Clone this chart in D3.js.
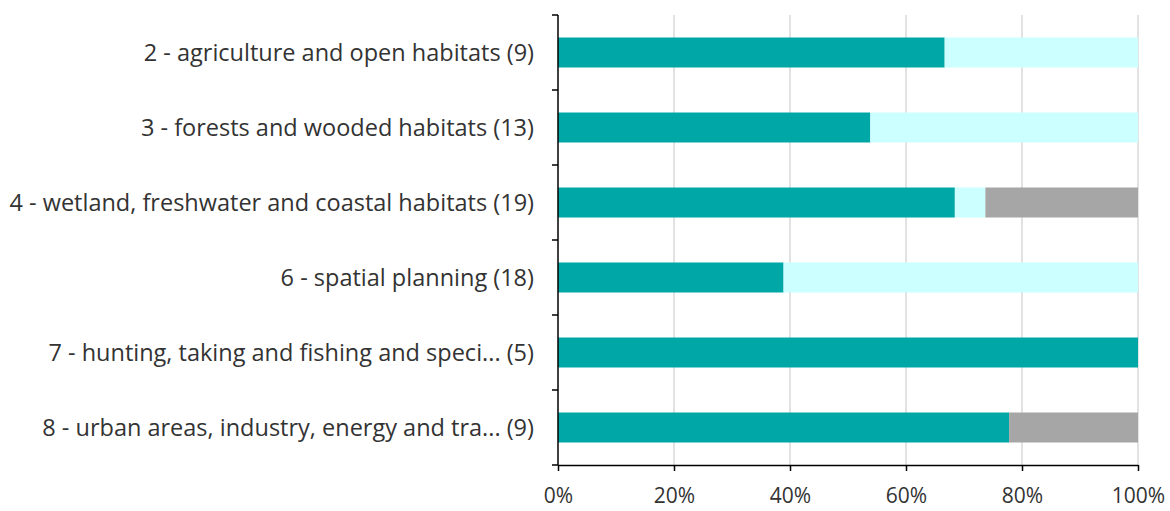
<!DOCTYPE html>
<html>
<head>
<meta charset="utf-8">
<script src="https://cdn.jsdelivr.net/npm/d3@7"></script>
<style>
  html, body { margin: 0; padding: 0; background: #fff; }
  svg { display: block; }
  text { font-family: "Open Sans", "Liberation Sans", sans-serif; fill: #333; }
</style>
</head>
<body>
<svg id="chart" width="1170" height="511"></svg>
<script>
// Measures and how many of them fall in each status class
const categories = [
  "2 - agriculture and open habitats (9)",
  "3 - forests and wooded habitats (13)",
  "4 - wetland, freshwater and coastal habitats (19)",
  "6 - spatial planning (18)",
  "7 - hunting, taking and fishing and speci... (5)",
  "8 - urban areas, industry, energy and tra... (9)"
];
const seriesNames = ["implemented", "partly implemented", "not known"];
const implemented = [6, 7, 13, 7, 5, 7];
const partlyImplemented = [3, 6, 1, 11, 0, 0];
const notKnown = [0, 0, 5, 0, 0, 2];
const colors = ["#00A7A7", "#CCFFFF", "#A6A6A6"];
const xTicks = [0, 0.2, 0.4, 0.6, 0.8, 1];

const rows = categories.map((c, i) => {
  const total = implemented[i] + partlyImplemented[i] + notKnown[i];
  return {
    category: c,
    "implemented": implemented[i] / total,
    "partly implemented": partlyImplemented[i] / total,
    "not known": notKnown[i] / total
  };
});

const svg = d3.select("#chart");
const margin = { left: 558, right: 32, top: 15, bottom: 46 };
const W = 1170, H = 511;

const x = d3.scaleLinear().domain([0, 1]).range([margin.left, W - margin.right]);
const y = d3.scaleBand().domain(categories).range([margin.top, H - margin.bottom]).paddingInner(0.6).paddingOuter(0.3);
const yBand = d3.scaleBand().domain(categories).range([margin.top, H - margin.bottom]);

// gridlines
svg.append("g")
  .selectAll("line")
  .data(xTicks.slice(1))
  .join("line")
  .attr("x1", d => x(d)).attr("x2", d => x(d))
  .attr("y1", margin.top).attr("y2", H - margin.bottom)
  .attr("stroke", "#D9D9D9").attr("stroke-width", 1.5);

// stacked bars
const stack = d3.stack().keys(seriesNames);
const layers = stack(rows);
svg.append("g")
  .selectAll("g")
  .data(layers)
  .join("g")
  .attr("fill", (d, i) => colors[i])
  .selectAll("rect")
  .data(d => d)
  .join("rect")
  .attr("x", d => x(d[0]))
  .attr("width", d => x(d[1]) - x(d[0]))
  .attr("y", d => y(d.data.category))
  .attr("height", y.bandwidth());

// x axis
const xAxis = svg.append("g")
  .attr("transform", `translate(0,${H - margin.bottom})`)
  .call(d3.axisBottom(x).tickValues(xTicks).tickFormat(d3.format(".0%")).tickSize(6).tickSizeOuter(0));
xAxis.select(".domain").attr("stroke", "#000").attr("stroke-width", 1.5);
xAxis.selectAll(".tick line").attr("stroke", "#000").attr("stroke-width", 1.5);
xAxis.selectAll(".tick text").attr("dy", "1.4em").style("font-size", "21px").attr("fill", "#333");

// y axis: ticks at category boundaries
const yg = svg.append("g");
yg.append("line")
  .attr("x1", margin.left).attr("x2", margin.left)
  .attr("y1", margin.top).attr("y2", H - margin.bottom)
  .attr("stroke", "#000").attr("stroke-width", 1.5);
const bounds = categories.map(c => yBand(c)).concat([H - margin.bottom]);
yg.selectAll(".ytick")
  .data(bounds)
  .join("line")
  .attr("x1", margin.left - 6).attr("x2", margin.left)
  .attr("y1", d => d).attr("y2", d => d)
  .attr("stroke", "#000").attr("stroke-width", 1.5);
yg.selectAll(".ylabel")
  .data(categories)
  .join("text")
  .attr("x", margin.left - 24)
  .attr("y", d => yBand(d) + yBand.bandwidth() / 2)
  .attr("dy", "0.35em")
  .attr("text-anchor", "end")
  .style("font-size", "23.5px")
  .text(d => d);
</script>
</body>
</html>
